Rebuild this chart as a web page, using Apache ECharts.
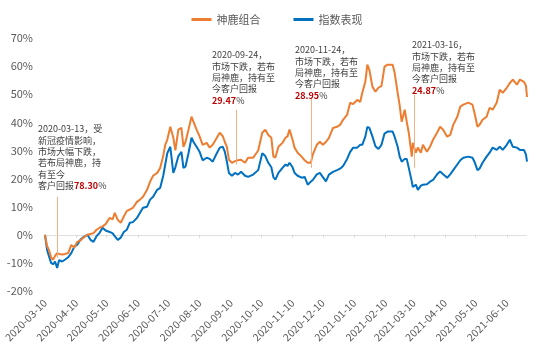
<!DOCTYPE html>
<html>
<head>
<meta charset="utf-8">
<script src="https://cdn.jsdelivr.net/npm/echarts@6/dist/echarts.min.js"></script>
<style>
  html, body { margin: 0; padding: 0; background: #fff; }
  #main { width: 554px; height: 350px; }
</style>
</head>
<body>
<div id="main"></div>
<script>
// 日期（采样点）
const dates = [
  '2020-03-10','2020-03-12','2020-03-14','2020-03-16','2020-03-18','2020-03-20','2020-03-22','2020-03-24','2020-03-27','2020-03-30',
  '2020-04-02','2020-04-05','2020-04-08','2020-04-11','2020-04-14','2020-04-17','2020-04-21','2020-04-24','2020-04-27','2020-04-30',
  '2020-05-03','2020-05-06','2020-05-09','2020-05-13','2020-05-16','2020-05-18','2020-05-21','2020-05-24','2020-05-27','2020-05-30',
  '2020-06-02','2020-06-05','2020-06-09','2020-06-12','2020-06-15','2020-06-19','2020-06-22','2020-06-25','2020-06-29',
  '2020-07-02','2020-07-05','2020-07-07','2020-07-09','2020-07-12','2020-07-15','2020-07-17','2020-07-20','2020-07-23','2020-07-25','2020-07-27','2020-07-30',
  '2020-08-02','2020-08-04','2020-08-07','2020-08-10','2020-08-13','2020-08-17','2020-08-20','2020-08-23','2020-08-27','2020-08-30',
  '2020-09-02','2020-09-04','2020-09-06','2020-09-08','2020-09-11','2020-09-14','2020-09-17','2020-09-20','2020-09-24','2020-09-27',
  '2020-10-02','2020-10-07','2020-10-11','2020-10-14','2020-10-17','2020-10-20','2020-10-22','2020-10-24','2020-10-27','2020-10-31',
  '2020-11-03','2020-11-05','2020-11-07','2020-11-10','2020-11-12','2020-11-15','2020-11-19','2020-11-22','2020-11-25','2020-11-28','2020-11-30',
  '2020-12-04','2020-12-07','2020-12-10','2020-12-13','2020-12-16','2020-12-20','2020-12-24','2020-12-27','2020-12-30',
  '2021-01-03','2021-01-06','2021-01-09','2021-01-13','2021-01-16','2021-01-18','2021-01-21','2021-01-23','2021-01-25','2021-01-28','2021-01-31',
  '2021-02-03','2021-02-06','2021-02-09','2021-02-12','2021-02-17','2021-02-19','2021-02-22','2021-02-24','2021-02-26',
  '2021-03-01','2021-03-03','2021-03-05','2021-03-08','2021-03-09','2021-03-12','2021-03-14','2021-03-17','2021-03-19','2021-03-23','2021-03-26','2021-03-29',
  '2021-04-02','2021-04-05','2021-04-08','2021-04-12','2021-04-15','2021-04-18','2021-04-22','2021-04-25','2021-04-28',
  '2021-05-03','2021-05-07','2021-05-09','2021-05-12','2021-05-14','2021-05-17','2021-05-21','2021-05-24','2021-05-27','2021-05-31',
  '2021-06-03','2021-06-06','2021-06-10','2021-06-13','2021-06-16','2021-06-20','2021-06-23','2021-06-27','2021-06-29','2021-06-30'
];

// 神鹿组合 (%)
const shenlu = [
  0, -4.0, -5.5, -8.0, -8.9, -7.5, -6.5, -6.8, -7.0, -6.8,
  -6.5, -3.6, -4.5, -2.5, -2.0, -1.0, 0.0, 0.3, 0.6, 1.8,
  2.5, 3.0, 3.8, 6.0, 5.5, 7.8, 5.3, 4.3, 6.5, 8.5,
  9.0, 9.6, 11.7, 12.5, 13.5, 16.0, 18.9, 21.0, 22.0,
  23.8, 28.0, 32.0, 33.8, 38.4, 34.5, 30.0, 37.4, 38.0, 31.3, 33.0, 37.4,
  42.0, 40.2, 37.4, 35.0, 32.0, 32.7, 31.0, 32.0, 34.5, 36.3,
  35.0, 33.0, 31.3, 26.7, 25.6, 26.2, 26.5, 26.7, 25.6, 27.4,
  27.4, 30.0, 36.3, 37.4, 35.5, 34.5, 27.8, 27.5, 31.3, 32.7,
  34.5, 35.0, 37.4, 33.8, 31.0, 29.2, 27.8, 26.5, 25.6, 25.6, 28.5,
  32.0, 33.1, 32.0, 33.0, 34.5, 38.0, 38.4, 39.1, 40.9,
  42.7, 47.0, 46.5, 48.0, 47.3, 50.5, 54.4, 60.5, 58.7, 52.7, 50.9,
  52.3, 53.0, 59.8, 60.5, 60.5, 57.7, 50.5, 46.0, 40.2,
  44.5, 40.2, 36.3, 27.8, 32.7, 29.2, 31.0, 29.2, 32.0, 29.5, 31.3, 33.8,
  36.3, 38.4, 37.4, 34.9, 35.5, 39.1, 42.0, 45.6, 46.3,
  47.0, 46.3, 43.4, 38.4, 39.1, 40.9, 42.0, 45.2, 44.5, 47.0,
  51.6, 50.5, 52.3, 54.0, 55.2, 53.4, 55.2, 54.4, 53.0, 49.0
];

// 指数表现 (%)
const indexPerf = [
  0, -5.3, -7.7, -10.0, -10.5, -9.5, -11.8, -9.0, -9.5, -8.8,
  -8.0, -6.5, -4.2, -3.5, -1.8, -0.8, 0.0, -1.8, -2.5, -0.5,
  0.7, 2.5, 1.5, 1.0, 0.5, -0.5, -1.8, -1.0, 1.0, 1.8,
  4.3, 4.5, 6.0, 7.8, 9.6, 10.0, 12.5, 13.5, 16.0,
  16.7, 21.0, 25.0, 29.0, 31.3, 22.0, 24.0, 28.0, 29.5, 23.8, 24.2, 29.0,
  34.5, 33.0, 31.3, 29.5, 26.5, 27.4, 27.0, 26.0, 29.0, 31.0,
  31.3, 29.5, 26.0, 22.0, 21.0, 22.0, 21.4, 22.4, 21.0, 20.6,
  21.4, 23.0, 29.0, 28.0, 25.6, 24.0, 20.5, 19.6, 22.0, 23.8,
  25.0, 24.5, 25.6, 24.0, 22.0, 21.0, 20.3, 20.6, 17.8, 18.9, 19.5,
  21.5, 22.0, 20.5, 19.0, 21.4, 22.4, 23.0, 23.5, 24.5,
  27.0, 29.5, 31.0, 31.0, 32.0, 32.0, 34.9, 38.4, 38.0, 35.0, 31.5,
  30.5, 32.0, 36.0, 36.7, 36.7, 34.9, 31.3, 27.8, 26.0,
  27.0, 27.0, 23.8, 18.9, 17.0, 17.8, 16.0, 17.5, 17.8, 18.0, 18.9, 19.5,
  21.5, 22.5, 21.5, 20.3, 21.5, 23.0, 25.0, 26.5, 27.4,
  27.8, 27.4, 26.0, 23.0, 23.5, 25.6, 27.8, 29.2, 31.0, 30.2,
  31.3, 30.2, 32.0, 33.8, 31.3, 31.0, 30.2, 30.2, 28.5, 26.0
];

// x 轴刻度
const tickDates = [
  '2020-03-10','2020-04-10','2020-05-10','2020-06-10','2020-07-10','2020-08-10','2020-09-10','2020-10-10',
  '2020-11-10','2020-12-10','2021-01-10','2021-02-10','2021-03-10','2021-04-10','2021-05-10','2021-06-10'
];

// 标注
const annDates = ['2020-03-22', '2020-09-15', '2020-11-28', '2021-03-10'];
const annTop = [13.5, 44.5, 49.0, 49.8];
const annBottom = [-8.2, 25.0, 23.8, 23.8];
const annTexts = [
  '2020-03-13，受\n新冠疫情影响，\n市场大幅下跌，\n若布局神鹿，持\n有至今\n客户回报{r|78.30}%',
  '2020-09-24，\n市场下跌，若布\n局神鹿，持有至\n今客户回报\n{r|29.47}%',
  '2020-11-24，\n市场下跌，若布\n局神鹿，持有至\n今客户回报\n{r|28.95}%',
  '2021-03-16，\n市场下跌，若布\n局神鹿，持有至\n今客户回报\n{r|24.87}%'
];
const annPos = [[38, 123], [212, 49], [295, 44], [412, 39]];

const FONT = '"Noto Sans CJK SC", "Microsoft YaHei", sans-serif';
const ts = s => new Date(s + 'T00:00:00').getTime();
const pad = n => (n < 10 ? '0' : '') + n;
const xMin = ts('2020-03-10');
const xMax = ts('2021-06-30');
const tickVals = tickDates.map(ts);

let myChart = echarts.init(document.getElementById('main'));

myChart.setOption({
  animation: false,
  textStyle: { fontFamily: FONT },
  legend: {
    top: 9,
    left: 'center',
    itemWidth: 20,
    itemHeight: 3,
    itemGap: 33,
    icon: 'rect',
    textStyle: { color: '#595959', fontSize: 11, fontFamily: FONT },
    data: ['神鹿组合', '指数表现']
  },
  grid: {
    left: 45,
    right: 27,
    top: 38,
    bottom: 59,
    containLabel: false,
    outerBoundsMode: 'none'
  },
  xAxis: [
    {
      // 0% 处的轴线和刻度
      type: 'value',
      position: 'bottom',
      min: xMin,
      max: xMax,
      splitLine: { show: false },
      axisLine: {
        onZero: true,
        lineStyle: { color: '#d9d9d9', type: 'dotted', width: 1 }
      },
      axisTick: {
        show: true,
        length: 3,
        customValues: tickVals,
        lineStyle: { color: '#d9d9d9' }
      },
      axisLabel: { show: false }
    },
    {
      // 底部日期标签
      type: 'value',
      position: 'bottom',
      min: xMin,
      max: xMax,
      splitLine: { show: false },
      axisLine: { show: false, onZero: false },
      axisTick: { show: false },
      axisLabel: {
        rotate: 45,
        margin: 10,
        fontSize: 10.5,
        color: '#595959',
        fontFamily: FONT,
        customValues: tickVals,
        formatter: function (v) {
          let d = new Date(v);
          return d.getFullYear() + '-' + pad(d.getMonth() + 1) + '-' + pad(d.getDate());
        }
      }
    }
  ],
  yAxis: {
    type: 'value',
    min: -20,
    max: 70,
    interval: 10,
    splitLine: { show: false },
    axisLine: { show: false },
    axisTick: { show: false },
    axisLabel: {
      formatter: '{value}%',
      color: '#595959',
      fontSize: 11,
      margin: 12,
      fontFamily: FONT
    }
  },
  series: [
    {
      name: '神鹿组合',
      type: 'line',
      data: dates.map((d, i) => [ts(d), shenlu[i]]),
      showSymbol: false,
      symbol: 'none',
      lineStyle: { color: '#ED7D31', width: 2 },
      itemStyle: { color: '#ED7D31' },
      z: 3,
      markLine: {
        silent: true,
        symbol: ['none', 'none'],
        label: { show: false },
        lineStyle: { color: '#F4B183', width: 1, type: 'solid' },
        data: annDates.map((d, i) => [
          { coord: [ts(d), annTop[i]] },
          { coord: [ts(d), annBottom[i]] }
        ])
      }
    },
    {
      name: '指数表现',
      type: 'line',
      data: dates.map((d, i) => [ts(d), indexPerf[i]]),
      showSymbol: false,
      symbol: 'none',
      lineStyle: { color: '#0070C0', width: 2 },
      itemStyle: { color: '#0070C0' },
      z: 2
    }
  ],
  graphic: annTexts.map((t, i) => ({
    type: 'text',
    left: annPos[i][0],
    top: annPos[i][1],
    z: 10,
    style: {
      text: t,
      fill: '#404040',
      fontSize: 9,
      fontFamily: FONT,
      lineHeight: 11.4,
      rich: {
        r: { fill: '#C00000', fontWeight: 'bold', fontSize: 9, fontFamily: FONT, lineHeight: 11.4 }
      }
    }
  }))
});
</script>
</body>
</html>
